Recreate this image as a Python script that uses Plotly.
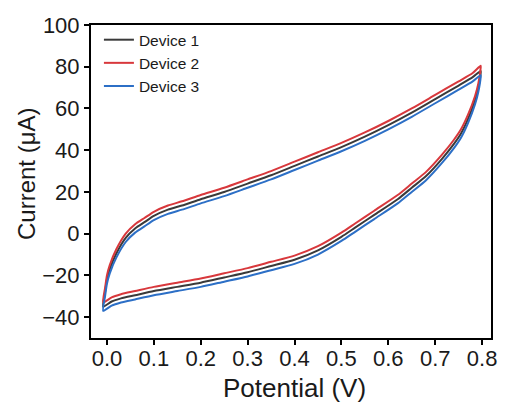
import plotly.graph_objects as go

# Potential values around one CV loop (forward sweep then reverse sweep), in V
potential_fwd = [-0.008, -0.004, 0.0, 0.006, 0.02, 0.04, 0.06, 0.08, 0.10, 0.13, 0.16, 0.20, 0.25,
                 0.30, 0.35, 0.40, 0.45, 0.50, 0.55, 0.60, 0.65, 0.70, 0.75, 0.78, 0.797]
potential_rev = [0.797, 0.792, 0.785, 0.77, 0.755, 0.74, 0.715, 0.68, 0.65, 0.62, 0.57, 0.53, 0.50,
                 0.45, 0.40, 0.35, 0.30, 0.25, 0.20, 0.15, 0.10, 0.06, 0.03, 0.01, -0.008]

# Currents (µA)
dev1_fwd = [-35, -28, -22, -17, -9.5, -2, 2.5, 5.5, 8.5, 11.5, 13.5, 16.5, 20,
            24, 28, 32.5, 37, 41.5, 46.5, 52, 58, 64.5, 71, 75, 78]
dev1_rev = [77, 70, 64, 55, 48, 43, 36, 27.5, 22, 16.5, 9, 3, -1.5,
            -8, -12.5, -15.5, -18.5, -21, -23.5, -25.5, -27.5, -29.5, -31, -32.5, -35]

dev2_fwd = [-33, -26, -20, -15, -7.5, 0, 4.5, 7.5, 10.5, 13.5, 15.5, 18.5, 22,
            26, 30, 34.5, 39, 43.5, 48.5, 54, 60, 66.5, 73, 77, 80.5]
dev2_rev = [79.5, 72, 66, 57, 50, 45, 38, 29.5, 24, 18.5, 11, 5, 0.5,
            -6, -10.5, -13.5, -16.5, -19, -21.5, -23.5, -25.5, -27.5, -29, -30.5, -33]

dev3_fwd = [-37, -30, -24, -19, -11.5, -4, 0.5, 3.5, 6.5, 9.5, 11.5, 14.5, 18,
            22, 26, 30.5, 35, 39.5, 44.5, 50, 56, 62.5, 69, 73, 76]
dev3_rev = [75, 68, 62, 53, 46, 41, 34, 25.5, 20, 14.5, 7, 1, -3.5,
            -10, -14.5, -17.5, -20.5, -23, -25.5, -27.5, -29.5, -31.5, -33, -34.5, -37]

names = ["Device 1", "Device 2", "Device 3"]
colors = ["#3a3a3a", "#d8383c", "#2c6fc6"]

x_ticks = [0.0, 0.1, 0.2, 0.3, 0.4, 0.5, 0.6, 0.7, 0.8]
y_ticks = [-40, -20, 0, 20, 40, 60, 80, 100]

FONT = "Liberation Sans, Arial, sans-serif"

fig = go.Figure()
series = [(dev1_fwd, dev1_rev), (dev2_fwd, dev2_rev), (dev3_fwd, dev3_rev)]
for name, color, (fwd, rev) in zip(names, colors, series):
    fig.add_trace(go.Scatter(
        x=potential_fwd + potential_rev,
        y=fwd + rev,
        mode="lines",
        name=name,
        line=dict(color=color, width=2, shape="spline", smoothing=0.6),
    ))

axis_common = dict(
    showgrid=False, zeroline=False,
    showline=True, linecolor="black", linewidth=2, mirror=True,
    ticks="outside", ticklen=5, tickwidth=2, tickcolor="black",
    tickfont=dict(family=FONT, size=22, color="#1a1a1a"),
)

fig.update_layout(
    width=506, height=403,
    margin=dict(l=91, r=9, t=25, b=65),
    paper_bgcolor="white", plot_bgcolor="white",
    font=dict(family=FONT, color="#1a1a1a"),
    xaxis=dict(range=[-0.034, 0.819], tickvals=x_ticks,
               ticktext=[f"{v:.1f}" for v in x_ticks], ticklabelstandoff=-5,
               **axis_common),
    yaxis=dict(range=[-50, 100], tickvals=y_ticks, **axis_common),
    legend=dict(x=0.0198, y=1.006, xanchor="left", yanchor="top",
                bgcolor="rgba(0,0,0,0)", borderwidth=0,
                font=dict(family=FONT, size=15.5, color="#1a1a1a"),
                tracegroupgap=0, itemwidth=30),
    showlegend=True,
    annotations=[
        dict(text="Potential (V)", xref="paper", yref="paper", x=0.508, y=-0.160,
             xanchor="center", yanchor="middle", showarrow=False,
             font=dict(family=FONT, size=26, color="#1a1a1a")),
        dict(text="Current (μA)", xref="paper", yref="paper", x=-0.1626, y=0.527,
             xanchor="center", yanchor="middle", showarrow=False, textangle=-90,
             font=dict(family=FONT, size=24, color="#1a1a1a")),
    ],
)

fig.write_html("out.html")
